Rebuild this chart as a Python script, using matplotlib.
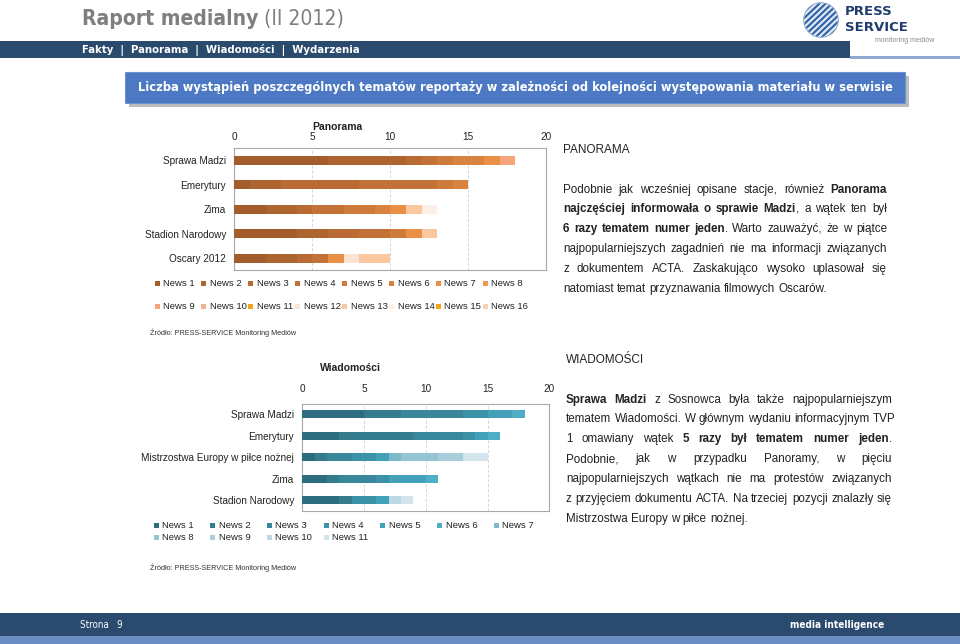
import matplotlib

matplotlib.use("Agg")
import matplotlib.pyplot as plt
from matplotlib.patches import Rectangle, Circle
import numpy as np

W, H = 960, 644

# --- data -----------------------------------------------------------------
PANORAMA_TOPICS = ["Sprawa Madzi", "Emerytury", "Zima", "Stadion Narodowy", "Oscary 2012"]
PANORAMA_LABELS = [f"News {i}" for i in range(1, 17)]
# one row per position in the news bulletin, columns follow PANORAMA_TOPICS
PANORAMA_VALUES = [
    [6, 1, 2, 4, 2],   # News 1
    [5, 2, 2, 2, 2],   # News 2
    [1, 5, 1, 2, 1],   # News 3
    [1, 5, 2, 2, 1],   # News 4
    [1, 1, 2, 1, 0],   # News 5
    [2, 1, 1, 0, 0],   # News 6
    [1, 0, 1, 1, 1],   # News 7
    [0, 0, 0, 0, 0],   # News 8
    [1, 0, 0, 0, 0],   # News 9
    [0, 0, 0, 0, 0],   # News 10
    [0, 0, 0, 0, 0],   # News 11
    [0, 0, 0, 0, 1],   # News 12
    [0, 0, 1, 1, 2],   # News 13
    [0, 0, 1, 0, 0],   # News 14
    [0, 0, 0, 0, 0],   # News 15
    [0, 0, 0, 0, 0],   # News 16
]

WIAD_TOPICS = ["Sprawa Madzi", "Emerytury", "Mistrzostwa Europy w piłce nożnej",
               "Zima", "Stadion Narodowy"]
WIAD_LABELS = [f"News {i}" for i in range(1, 12)]
WIAD_VALUES = [
    [5, 3, 1, 2, 3],   # News 1
    [3, 6, 1, 1, 1],   # News 2
    [5, 4, 2, 3, 0],   # News 3
    [2, 1, 2, 1, 2],   # News 4
    [2, 1, 1, 3, 1],   # News 5
    [1, 1, 0, 1, 0],   # News 6
    [0, 0, 1, 0, 0],   # News 7
    [0, 0, 3, 0, 0],   # News 8
    [0, 0, 2, 0, 0],   # News 9
    [0, 0, 0, 0, 1],   # News 10
    [0, 0, 2, 0, 1],   # News 11
]
TICKS = [0, 5, 10, 15, 20]

# --- styles ---------------------------------------------------------------
ORANGES = ["#A35D2C", "#AE642F", "#B96B33", "#C27236", "#CD7A3A", "#D8833F",
           "#EA9046", "#F09A52", "#F4A67A", "#F2B092", "#F6A21C", "#FCE4D4",
           "#FBC79E", "#FDEFE6", "#F5A414", "#F9D2B4"]
TEALS = ["#2E6D7F", "#337B8D", "#38879B", "#3C93A8", "#42A1B8", "#4DAEC6",
         "#7CB9CC", "#95C4D4", "#A9CEDB", "#BED8E3", "#D4E4EC"]
NAVY = "#2A4A6E"
BOX_BLUE = "#4C78C4"
GRAY_TXT = "#7F7F7F"
NARROW = ["Liberation Sans Narrow", "DejaVu Sans"]
SANS = ["Liberation Sans", "DejaVu Sans"]

plt.rcParams["font.family"] = SANS

fig = plt.figure(figsize=(W / 100, H / 100), dpi=100, facecolor="white")
bg = fig.add_axes([0, 0, 1, 1])
bg.set_xlim(0, W)
bg.set_ylim(H, 0)
bg.axis("off")
R = fig.canvas.get_renderer()


def px_axes(x0, y0, x1, y1):
    return fig.add_axes([x0 / W, 1 - y1 / H, (x1 - x0) / W, (y1 - y0) / H])


def fit_width(t, target):
    w = t.get_window_extent(R).width
    t.set_fontsize(t.get_fontsize() * target / w)
    return t


def parse(line):
    words = [[]]
    for k, seg in enumerate(line.split("*")):
        bold = k % 2 == 1
        for j, part in enumerate(seg.split(" ")):
            if j > 0:
                words.append([])
            if part:
                words[-1].append((part, bold))
    return [w for w in words if w]


def paragraph(lines, x0, x1, y0, dy, size):
    probe = bg.text(0, 0, "a a", fontsize=size, family=SANS)
    probe2 = bg.text(0, 0, "aa", fontsize=size, family=SANS)
    space = probe.get_window_extent(R).width - probe2.get_window_extent(R).width
    probe.remove()
    probe2.remove()
    for li, line in enumerate(lines):
        y = y0 + li * dy
        items = []
        for word in parse(line):
            pieces = [bg.text(0, y, txt, fontsize=size, family=SANS, color="#222222",
                              fontweight="bold" if b else "normal", va="center", ha="left")
                      for txt, b in word]
            items.append([(p, p.get_window_extent(R).width) for p in pieces])
        total = sum(w for it in items for _, w in it)
        if li == len(lines) - 1 or len(items) < 2:
            gap = space
        else:
            gap = max((x1 - x0 - total) / (len(items) - 1), space)
        x = x0
        for it in items:
            for p, w in it:
                p.set_x(x)
                x += w
            x += gap


def stacked_chart(ax, topics, labels, values, colors):
    ypos = np.arange(len(topics))
    left = np.zeros(len(topics))
    for lab, vals, col in zip(labels, values, colors):
        vals = np.array(vals, dtype=float)
        ax.barh(ypos, vals, left=left, height=0.37, color=col, label=lab,
                linewidth=0, zorder=3)
        left += vals
    ax.set_xlim(0, 20)
    ax.set_ylim(len(topics) - 0.5, -0.5)
    ax.set_yticks(ypos)
    ax.set_yticklabels(topics, fontsize=6.8, color="#222222")
    ax.set_xticks(TICKS)
    ax.xaxis.tick_top()
    ax.tick_params(length=0, labelsize=7.2, labelcolor="#222222")
    ax.tick_params(axis="y", pad=6)
    ax.grid(axis="x", color="#D6D6D6", linestyle=(0, (3, 2)), linewidth=0.7, zorder=0)
    for s in ax.spines.values():
        s.set_color("#A8A8A8")
        s.set_linewidth(0.8)
    ax.set_facecolor("white")


def legend_rows(labels, colors, x0, dx, ncol, y0, dy):
    for i, (lab, col) in enumerate(zip(labels, colors)):
        x = x0 + (i % ncol) * dx
        y = y0 + (i // ncol) * dy
        bg.add_patch(Rectangle((x - 2.5, y - 2.5), 5, 5, color=col, lw=0))
        bg.text(x + 6, y, lab, fontsize=6.8, va="center", ha="left", color="#222222")


# --- page header ------------------------------------------------------------
t1 = bg.text(82, 19, "Raport medialny", fontsize=20, fontweight="bold", family=NARROW,
             fontstretch="condensed", color=GRAY_TXT, va="center", ha="left")
fit_width(t1, 176)
end = t1.get_window_extent(R).x1
bg.text(end + 6, 19, "(II 2012)", fontsize=t1.get_fontsize(), family=NARROW,
        fontstretch="condensed", color=GRAY_TXT, va="center", ha="left")

bg.add_patch(Rectangle((0, 41), 850, 17, color=NAVY, lw=0))
bg.add_patch(Rectangle((850, 56), 110, 3, color="#8FA8CF", lw=0))
nav = bg.text(82, 49.5, "Fakty  |  Panorama  |  Wiadomości  |  Wydarzenia", fontsize=8,
              fontweight="bold", family=NARROW, fontstretch="condensed", color="white",
              va="center", ha="left")
fit_width(nav, 277)

# logo
logo = Circle((821, 20), 17, facecolor="#2F62A8", edgecolor="#6D8FC0", lw=1)
bg.add_patch(logo)
for off in np.linspace(-22, 22, 8):
    ln, = bg.plot([800 + off, 842 + off], [40, 0], color="white", lw=1.6, alpha=0.85)
    ln.set_clip_path(logo)
bg.text(845, 11.5, "PRESS", fontsize=9.5, fontweight="bold", color="#1F3C6E",
        va="center", ha="left", family="DejaVu Sans")
bg.text(845, 27.5, "SERVICE", fontsize=9.5, fontweight="bold", color="#1F3C6E",
        va="center", ha="left", family="DejaVu Sans")
bg.text(934, 40.5, "monitoring mediów", fontsize=5, color="#8A8A8A",
        va="center", ha="right")

# title box
bg.add_patch(Rectangle((129, 76), 780, 31, color="#BDBDBD", lw=0))
bg.add_patch(Rectangle((125, 72), 780, 31, facecolor=BOX_BLUE, edgecolor="#6F93D0", lw=0.8))
tt = bg.text(515, 87, "Liczba wystąpień poszczególnych tematów reportaży w zależności od "
             "kolejności występowania materiału w serwisie", fontsize=11, fontweight="bold",
             family=NARROW, fontstretch="condensed", color="white", va="center", ha="center")
fit_width(tt, 756)

# --- Panorama chart ---------------------------------------------------------
ax1 = px_axes(234.3, 148, 546.3, 270.5)
stacked_chart(ax1, PANORAMA_TOPICS, PANORAMA_LABELS, PANORAMA_VALUES, ORANGES)
ax1.tick_params(axis="x", pad=4)
bg.text(337, 127, "Panorama", fontsize=7.5, fontweight="bold", ha="center", va="center",
        color="#222222")
legend_rows(PANORAMA_LABELS, ORANGES, 157, 46.9, 8, 283, 23.5)
bg.text(150, 333, "Źródło: PRESS-SERVICE Monitoring Mediów", fontsize=5.2,
        va="center", ha="left", color="#333333")

# --- Wiadomości chart -------------------------------------------------------
ax2 = px_axes(302.3, 403.6, 549.3, 510.7)
stacked_chart(ax2, WIAD_TOPICS, WIAD_LABELS, WIAD_VALUES, TEALS)
ax2.tick_params(axis="x", pad=7)
bg.text(350, 368, "Wiadomości", fontsize=7.5, fontweight="bold", ha="center", va="center",
        color="#222222")
legend_rows(WIAD_LABELS, TEALS, 156, 56.7, 7, 525, 12)
bg.text(150, 568, "Źródło: PRESS-SERVICE Monitoring Mediów", fontsize=5.2,
        va="center", ha="left", color="#333333")

# --- commentary -------------------------------------------------------------
bg.text(563, 150, "PANORAMA", fontsize=8.5, va="center", ha="left", color="#222222")
paragraph([
    "Podobnie jak wcześniej opisane stacje, również *Panorama*",
    "*najczęściej informowała o sprawie Madzi*, a wątek ten był",
    "*6 razy tematem numer jeden*. Warto zauważyć, że w piątce",
    "najpopularniejszych zagadnień nie ma informacji związanych",
    "z dokumentem ACTA. Zaskakująco wysoko uplasował się",
    "natomiast temat przyznawania filmowych Oscarów.",
], 563, 887, 189.5, 19.9, 8.4)

bg.text(566, 360, "WIADOMOŚCI", fontsize=8.5, va="center", ha="left", color="#222222")
paragraph([
    "*Sprawa Madzi* z Sosnowca była także najpopularniejszym",
    "tematem Wiadomości. W głównym wydaniu informacyjnym TVP",
    "1 omawiany wątek *5 razy był tematem numer jeden*.",
    "Podobnie, jak w przypadku Panoramy, w pięciu",
    "najpopularniejszych wątkach nie ma protestów związanych",
    "z przyjęciem dokumentu ACTA. Na trzeciej pozycji znalazły się",
    "Mistrzostwa Europy w piłce nożnej.",
], 566, 892, 399.5, 19.9, 8.4)

# --- footer -----------------------------------------------------------------
bg.add_patch(Rectangle((0, 613), W, 23, color=NAVY, lw=0))
bg.add_patch(Rectangle((0, 636), W, 8, color="#6A8DC6", lw=0))
bg.text(80, 624.5, "Strona   9", fontsize=7, family=NARROW, fontstretch="condensed",
        color="white", va="center", ha="left")
mi = bg.text(884, 625, "media intelligence", fontsize=9, fontweight="bold", family=NARROW,
             fontstretch="condensed", color="white", va="center", ha="right")
fit_width(mi, 95)

fig.savefig("out.png", dpi=100, facecolor="white")
